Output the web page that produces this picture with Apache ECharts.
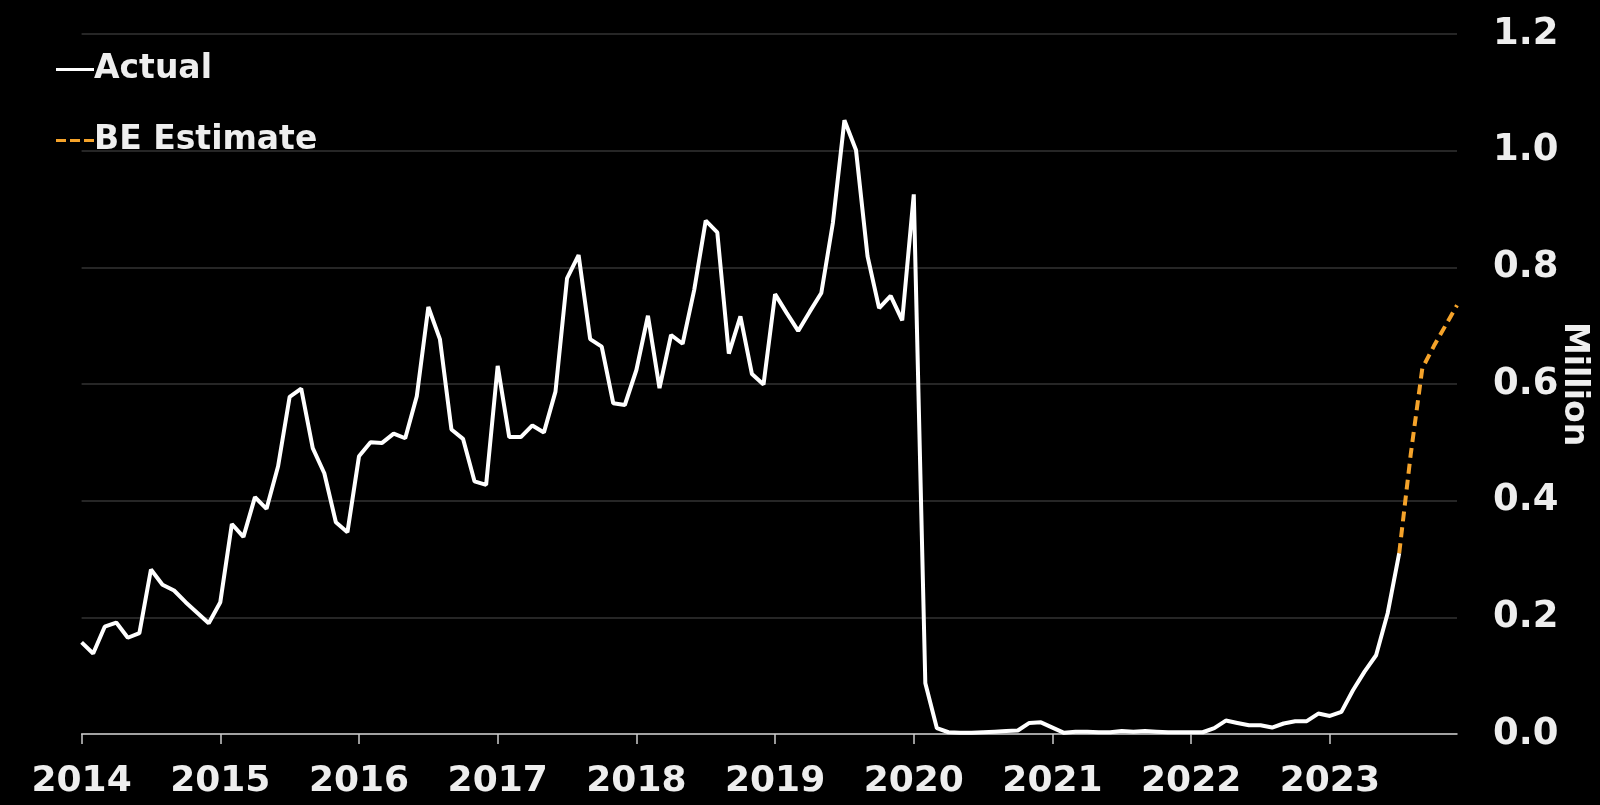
<!DOCTYPE html>
<html>
<head>
<meta charset="utf-8">
<script src="https://cdn.jsdelivr.net/npm/echarts@6/dist/echarts.min.js"></script>
<style>
html,body{margin:0;padding:0;background:#000;}
#chart{width:1600px;height:805px;}
</style>
</head>
<body>
<div id="chart"></div>
<script>
var years = ['2014','2015','2016','2017','2018','2019','2020','2021','2022','2023'];
var yTicks = [0, 0.2, 0.4, 0.6, 0.8, 1.0, 1.2];

// Monthly values, million (Jan 2014 - Jul 2023)
var actual2014 = [0.157, 0.138, 0.184, 0.191, 0.165, 0.173, 0.282, 0.256, 0.246, 0.226, 0.208, 0.190];
var actual2015 = [0.226, 0.360, 0.338, 0.406, 0.386, 0.459, 0.578, 0.592, 0.490, 0.447, 0.363, 0.346];
var actual2016 = [0.476, 0.500, 0.499, 0.515, 0.507, 0.579, 0.732, 0.677, 0.522, 0.506, 0.433, 0.427];
var actual2017 = [0.631, 0.509, 0.509, 0.529, 0.517, 0.587, 0.781, 0.821, 0.677, 0.664, 0.567, 0.564];
var actual2018 = [0.624, 0.717, 0.593, 0.684, 0.669, 0.761, 0.880, 0.860, 0.652, 0.716, 0.617, 0.599];
var actual2019 = [0.754, 0.722, 0.691, 0.724, 0.756, 0.876, 1.052, 1.001, 0.819, 0.730, 0.751, 0.709];
var actual2020 = [0.925, 0.087, 0.010, 0.003, 0.002, 0.002, 0.003, 0.004, 0.005, 0.006, 0.019, 0.020];
var actual2021 = [0.011, 0.002, 0.004, 0.004, 0.003, 0.003, 0.005, 0.004, 0.005, 0.004, 0.003, 0.003];
var actual2022 = [0.003, 0.003, 0.010, 0.023, 0.019, 0.015, 0.015, 0.011, 0.018, 0.022, 0.022, 0.035];
var actual2023 = [0.031, 0.038, 0.075, 0.107, 0.135, 0.207, 0.310];
// BE Estimate, Jul 2023 - Dec 2023
var estimate2023 = [0.310, 0.480, 0.627, 0.665, 0.700, 0.735];
var estimateStartMonth = 6; // July 2023

var categories = [];
years.forEach(function (y) {
  for (var m = 1; m <= 12; m++) categories.push(y + '-' + (m < 10 ? '0' + m : m));
});
var actual = [].concat(actual2014, actual2015, actual2016, actual2017, actual2018,
  actual2019, actual2020, actual2021, actual2022, actual2023);
while (actual.length < categories.length) actual.push(null);
var estimate = [];
var estStart = 9 * 12 + estimateStartMonth;
for (var i = 0; i < categories.length; i++) {
  estimate.push(i >= estStart ? estimate2023[i - estStart] : null);
}

var FONT = 'DejaVu Sans';
var TXT = '#eeeeee';
var ORANGE = '#f5a32a';
var chart = echarts.init(document.getElementById('chart'));
chart.setOption({
  backgroundColor: '#000000',
  animation: false,
  textStyle: { fontFamily: FONT },
  grid: { left: 81.6, right: 143, top: 34, bottom: 71, containLabel: false, outerBoundsMode: 'none' },
  legend: {
    orient: 'vertical',
    left: 51,
    top: 48,
    itemWidth: 38,
    itemHeight: 3,
    itemGap: 38,
    textStyle: { color: TXT, fontSize: 33, fontWeight: 'bold', fontFamily: FONT, padding: [0, 0, 0, -5] },
    data: [
      { name: 'Actual', icon: 'rect', itemStyle: { color: '#ffffff' } },
      { name: 'BE Estimate', icon: 'path://M0,0h10v3h-10z M14,0h10v3h-10z M28,0h10v3h-10z', itemStyle: { color: ORANGE } }
    ]
  },
  xAxis: {
    type: 'category',
    data: categories,
    boundaryGap: false,
    axisLine: { show: true, lineStyle: { color: '#cccccc', width: 1.5 } },
    axisTick: {
      show: true, length: 10, lineStyle: { color: '#cccccc', width: 1.5 },
      interval: function (idx) { return idx % 12 === 0; }
    },
    axisLabel: {
      color: TXT, fontSize: 36, fontWeight: 'bold', fontFamily: FONT, margin: 30,
      interval: function (idx) { return idx % 12 === 0; },
      formatter: function (v) { return v.slice(0, 4); }
    },
    splitLine: { show: false }
  },
  yAxis: {
    type: 'value',
    position: 'right',
    min: yTicks[0],
    max: yTicks[yTicks.length - 1],
    interval: 0.2,
    name: 'Million',
    nameLocation: 'middle',
    nameRotate: -90,
    nameGap: 100,
    nameMoveOverlap: false,
    nameTextStyle: { color: TXT, fontSize: 33, fontWeight: 'bold', fontFamily: FONT },
    axisLine: { show: false },
    axisTick: { show: false },
    axisLabel: {
      color: TXT, fontSize: 37, fontWeight: 'bold', fontFamily: FONT, margin: 36,
      formatter: function (v) { return v.toFixed(1); }
    },
    splitLine: { show: true, lineStyle: { color: '#333333', width: 1.5 } }
  },
  series: [
    {
      name: 'Actual',
      type: 'line',
      data: actual,
      symbol: 'none',
      lineStyle: { color: '#ffffff', width: 4 },
      itemStyle: { color: '#ffffff' },
      z: 3
    },
    {
      name: 'BE Estimate',
      type: 'line',
      data: estimate,
      symbol: 'none',
      lineStyle: { color: ORANGE, width: 4, type: [10, 6] },
      itemStyle: { color: ORANGE },
      z: 4
    }
  ]
});
</script>
</body>
</html>
